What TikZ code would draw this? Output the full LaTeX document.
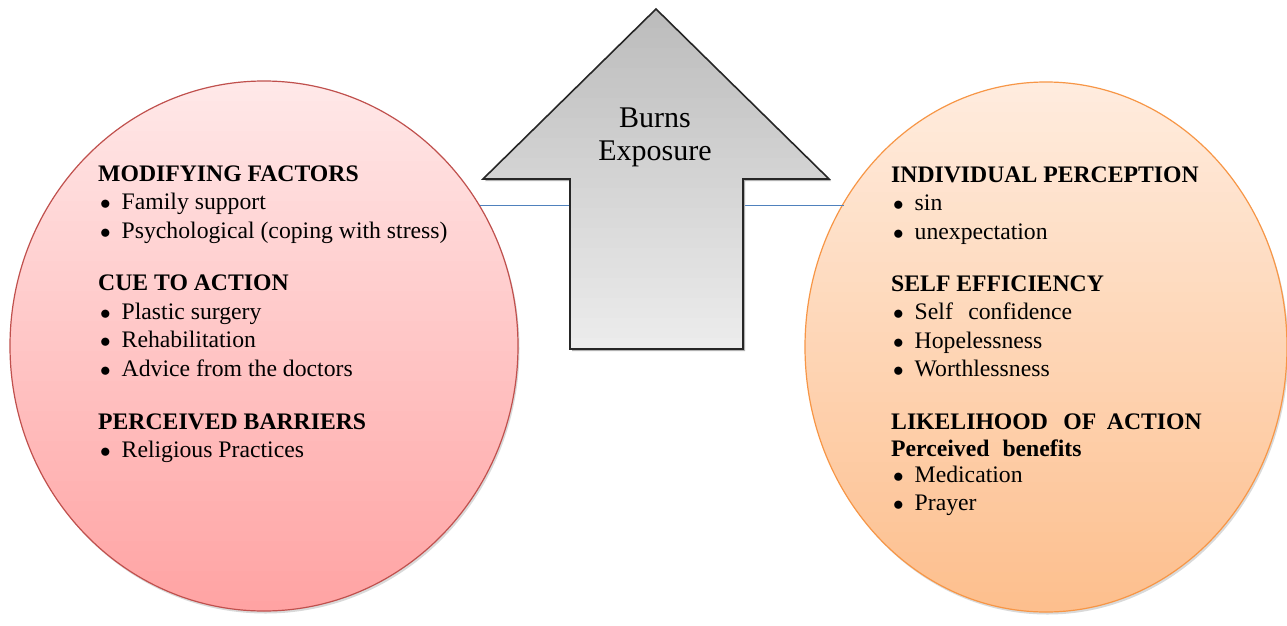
\documentclass[tikz,border=0pt]{standalone}
\usepackage{fontspec}
\setmainfont{Liberation Serif}[Ligatures=NoCommon]
\usetikzlibrary{shapes.geometric}
\definecolor{pinktop}{RGB}{255,232,232}
\definecolor{pinkbot}{RGB}{255,162,162}
\definecolor{pinkline}{RGB}{192,80,77}
\definecolor{orangetop}{RGB}{255,236,222}
\definecolor{orangebot}{RGB}{253,190,140}
\definecolor{orangeline}{RGB}{247,150,70}
\definecolor{arrowtop}{RGB}{188,188,188}
\definecolor{arrowbot}{RGB}{237,237,237}
\definecolor{linkblue}{RGB}{79,129,189}
\newcommand{\bul}[1]{\hspace*{2pt}\makebox[21.5pt][l]{\scalebox{0.85}{$\bullet$}}#1}

\begin{document}
\begin{tikzpicture}[
      x=1pt, y=-1pt,
      nodes={font=\fontsize{23.7}{28.4}\selectfont, inner sep=0pt},
      circ/.style={ellipse, line width=1.2pt, minimum width=508pt, minimum height=530pt},
      txt/.style={anchor=base west},
      hd/.style={anchor=base west, font=\fontsize{23.7}{28.4}\selectfont\bfseries}
      ]
  \useasboundingbox[fill=white] (0,0) rectangle (1287,626);

  % left disc, soft shadow and gradient
  \fill[black!15] (265.5,348.5) ellipse [x radius=254pt, y radius=265pt];
  \begin{scope}
    \clip (264,346) ellipse [x radius=254pt, y radius=265pt];
    \foreach \i in {0,...,53}{
      \pgfmathsetmacro\pc{\i*100/53}
      \fill[pinkbot!\pc!pinktop] (0,{81+\i*10}) rectangle (530,{91.5+\i*10});
    }
  \end{scope}
  \node[circ, draw=pinkline] (lcirc) at (264,346) {};

  % right disc
  \fill[black!15] (1047.5,349.5) ellipse [x radius=241pt, y radius=265pt];
  \begin{scope}
    \clip (1046,347) ellipse [x radius=241pt, y radius=265pt];
    \foreach \i in {0,...,53}{
      \pgfmathsetmacro\pc{\i*100/53}
      \fill[orangebot!\pc!orangetop] (795,{82+\i*10}) rectangle (1290,{92.5+\i*10});
    }
  \end{scope}
  \node[circ, draw=orangeline, minimum width=482pt] (rcirc) at (1046,347) {};

  % Connect the nodes
  \draw[linkblue, line width=1.3pt] (lcirc.33.5) -- (rcirc.144.8 |- lcirc.33.5);

  % exposure arrow
  \fill[black!30, shift={(2,2)}]
    (483,179) -- (656,9) -- (829,179) -- (743,179) -- (743,349) -- (570,349) -- (570,179) -- cycle;
  \begin{scope}
    \clip (483,179) -- (656,9) -- (829,179) -- (743,179) -- (743,349) -- (570,349) -- (570,179) -- cycle;
    \foreach \i in {0,...,34}{
      \pgfmathsetmacro\pc{\i*100/34}
      \fill[arrowbot!\pc!arrowtop] (480,{8+\i*10}) rectangle (832,{18.5+\i*10});
    }
  \end{scope}
  \draw[draw=black!85, line width=1.6pt]
    (483,179) -- (656,9) -- (829,179) -- (743,179) -- (743,349) -- (570,349) -- (570,179) -- cycle;
  \node[anchor=base, font=\fontsize{30}{33}\selectfont] (burns) at (655,127) {Burns};
  \node[anchor=base, font=\fontsize{30}{33}\selectfont] (expo) at (655,160) {Exposure};

  % left text
  \node[hd]  (modify)  at (98,181)   {MODIFYING FACTORS};
  \node[txt] (family)  at (98,209.5) {\bul{Family support}};
  \node[txt] (psych)   at (98,238)   {\bul{Psychological (coping with stress)}};
  \node[hd]  (cue)     at (98,290.5) {CUE TO ACTION};
  \node[txt] (plastic) at (98,319)   {\bul{Plastic surgery}};
  \node[txt] (rehab)   at (98,347.5) {\bul{Rehabilitation}};
  \node[txt] (advice)  at (98,376)   {\bul{Advice from the doctors}};
  \node[hd]  (barrier) at (98,429.5) {PERCEIVED BARRIERS};
  \node[txt] (relig)   at (98,457)   {\bul{Religious Practices}};

  % right text
  \node[hd]  (percept) at (891,182)   {INDIVIDUAL PERCEPTION};
  \node[txt] (sin)     at (891,210.5) {\bul{sin}};
  \node[txt] (unexp)   at (891,239)   {\bul{unexpectation}};
  \node[hd]  (selfeff) at (891,291)   {SELF EFFICIENCY};
  \node[txt] (conf)    at (891,319.5) {\bul{Self\hspace{0.4em} confidence}};
  \node[txt] (hope)    at (891,348)   {\bul{Hopelessness}};
  \node[txt] (worth)   at (891,376.5) {\bul{Worthlessness}};
  \node[hd]  (likely)  at (891,429)   {LIKELIHOOD\hspace{0.4em} OF\hspace{0.2em} ACTION};
  \node[hd]  (benefit) at (891,456.5) {Perceived\hspace{0.3em} benefits};
  \node[txt] (medic)   at (891,482)   {\bul{Medication}};
  \node[txt] (prayer)  at (891,510.5) {\bul{Prayer}};

\end{tikzpicture}
\end{document}
